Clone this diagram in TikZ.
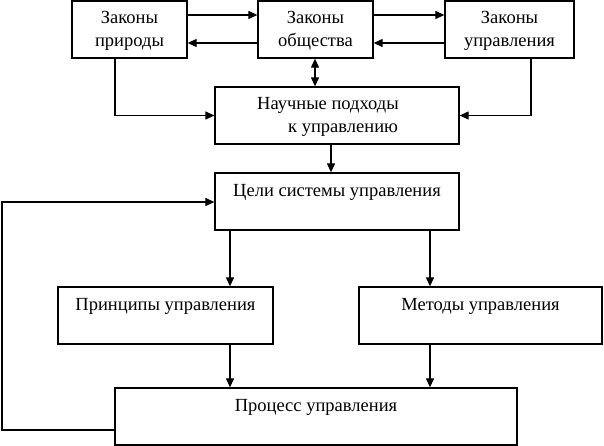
\documentclass[tikz,border=0pt]{standalone}
\usepackage{fontspec}
\setmainfont{Liberation Serif}
\usetikzlibrary{arrows.meta}
\begin{document}
\begin{tikzpicture}[x=1pt,y=-1pt,
  box/.style={draw, line width=1.3pt, inner sep=0pt, minimum height=57pt},
  txt/.style={inner sep=0pt, font=\fontsize{18.5}{23}\selectfont, align=center},
  conn/.style={line width=1.2pt, -{Triangle[length=9pt,width=8pt]}},
  dconn/.style={line width=1.2pt, {Triangle[length=9pt,width=8pt]}-{Triangle[length=9pt,width=8pt]}}]
\useasboundingbox (0,0) rectangle (604,446);
% boxes
\node[box, minimum width=115pt] (zp) at (129.5,29.5) {};
\node[box, minimum width=115pt] (zo) at (315.5,29.5) {};
\node[box, minimum width=129pt] (zu) at (509.5,29.5) {};
\node[box, minimum width=244pt] (np) at (337,115.5) {};
\node[box, minimum width=244pt] (cs) at (337,201.5) {};
\node[box, minimum width=215pt] (pu) at (165.5,315.5) {};
\node[box, minimum width=243pt] (mu) at (480.5,315.5) {};
\node[box, minimum width=402pt] (pr) at (316,416.5) {};
% texts
\node[txt] (zpt) at (129.5,31) {Законы\\природы};
\node[txt] (zot) at (315.5,31) {Законы\\общества};
\node[txt] (zut) at (509.5,31) {Законы\\управления};
\node[txt, anchor=west, align=left] (npt) at (257,117) {Научные подходы\\\hspace*{31pt}к управлению};
\node[txt] (cst) at (337,192) {Цели системы управления};
\node[txt] (put) at (165.5,306) {Принципы управления};
\node[txt] (mut) at (480.5,306) {Методы управления};
\node[txt] (prt) at (316,407) {Процесс управления};
% connectors
\draw[conn] (zp.east |- 0,15) -- (zo.west |- 0,15);
\draw[conn] (zo.east |- 0,15) -- (zu.west |- 0,15);
\draw[conn] (zo.west |- 0,43) -- (zp.east |- 0,43);
\draw[conn] (zu.west |- 0,43) -- (zo.east |- 0,43);
\draw[dconn] (zo.south -| 315,0) -- (np.north -| 315,0);
\draw[conn] (zp.south -| 115,0) |- (np.west);
\draw[conn] (zu.south -| 531,0) |- (np.east);
\draw[conn] (np.south -| 331,0) -- (cs.north -| 331,0);
\draw[conn] (cs.south -| 230,0) -- (pu.north -| 230,0);
\draw[conn] (cs.south -| 430,0) -- (mu.north -| 430,0);
\draw[conn] (pu.south -| 230,0) -- (pr.north -| 230,0);
\draw[conn] (mu.south -| 430,0) -- (pr.north -| 430,0);
\coordinate (fb1) at (2,430);
\coordinate (fb2) at (2,202);
\draw[conn] (pr.west |- fb1) -- (fb1) -- (fb2) -- (cs.west |- fb2);
\end{tikzpicture}
\end{document}
